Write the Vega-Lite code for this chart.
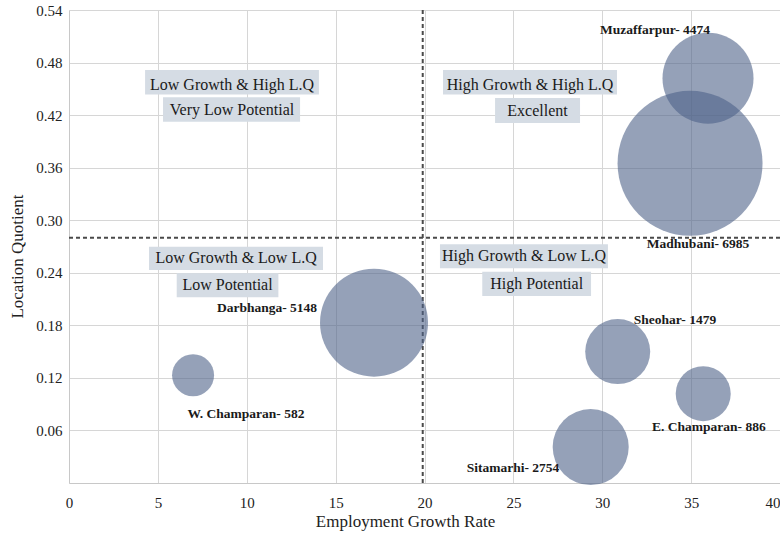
{
  "$schema": "https://vega.github.io/schema/vega-lite/v6.json",
  "width": 711,
  "height": 473,
  "autosize": {"type": "none"},
  "padding": {"left": 69, "top": 10, "right": 0, "bottom": 50},
  "background": "white",
  "config": {
    "font": "Liberation Serif",
    "view": {"stroke": null},
    "axis": {
      "labelFont": "Liberation Serif",
      "titleFont": "Liberation Serif",
      "labelFontSize": 15,
      "titleFontSize": 17,
      "titleFontWeight": "normal",
      "labelColor": "#222222",
      "titleColor": "#222222",
      "gridColor": "#d6d6d6",
      "domainColor": "#c8c8c8",
      "ticks": false
    }
  },
  "datasets": {
    "vline": [{"x": 19.9}],
    "hline": [{"y": 0.28}],
    "districts": [
      {"district": "Muzaffarpur", "label": "Muzaffarpur- 4474", "x": 35.95, "y": 0.462, "magnitude": 39.4, "lx": 32.97, "ly": 0.517},
      {"district": "Madhubani", "label": "Madhubani- 6985", "x": 34.94, "y": 0.365, "magnitude": 100, "lx": 35.39, "ly": 0.273},
      {"district": "Darbhanga", "label": "Darbhanga- 5148", "x": 17.16, "y": 0.183, "magnitude": 55.5, "lx": 11.14, "ly": 0.2},
      {"district": "W. Champaran", "label": "W. Champaran- 582", "x": 6.98, "y": 0.123, "magnitude": 8.4, "lx": 9.96, "ly": 0.079},
      {"district": "Sheohar", "label": "Sheohar- 1479", "x": 30.87, "y": 0.15, "magnitude": 20.1, "lx": 34.09, "ly": 0.186},
      {"district": "E. Champaran", "label": "E. Champaran- 886", "x": 35.68, "y": 0.102, "magnitude": 14.4, "lx": 36.0, "ly": 0.064},
      {"district": "Sitamarhi", "label": "Sitamarhi- 2754", "x": 29.35, "y": 0.041, "magnitude": 27.5, "lx": 24.98, "ly": 0.017}
    ],
    "quadrants": [
      {"text": "Low Growth & High L.Q", "x1": 4.28, "x2": 14.06, "y1": 0.4715, "y2": 0.4435, "x": 9.17, "y": 0.4549},
      {"text": "Very Low Potential", "x1": 5.29, "x2": 13.0, "y1": 0.4403, "y2": 0.4125, "x": 9.17, "y": 0.4264},
      {"text": "High Growth & High L.Q", "x1": 21.04, "x2": 30.83, "y1": 0.4715, "y2": 0.4435, "x": 25.94, "y": 0.4549},
      {"text": "Excellent", "x1": 23.97, "x2": 28.75, "y1": 0.4395, "y2": 0.411, "x": 26.36, "y": 0.4252},
      {"text": "Low Growth & Low L.Q", "x1": 4.5, "x2": 14.29, "y1": 0.2698, "y2": 0.2432, "x": 9.4, "y": 0.2565},
      {"text": "Low Potential", "x1": 6.06, "x2": 11.78, "y1": 0.2394, "y2": 0.212, "x": 8.92, "y": 0.2257},
      {"text": "High Growth & Low L.Q", "x1": 20.87, "x2": 30.32, "y1": 0.2725, "y2": 0.2451, "x": 25.6, "y": 0.2591},
      {"text": "High Potential", "x1": 23.25, "x2": 29.37, "y1": 0.2412, "y2": 0.2135, "x": 26.31, "y": 0.2274}
    ]
  },
  "layer": [
    {
      "data": {"name": "vline"},
      "mark": {"type": "rule", "strokeDash": [4, 3], "strokeWidth": 2, "color": "#4a4a4a"},
      "encoding": {
        "x": {
          "field": "x", "type": "quantitative",
          "scale": {"domain": [0, 40], "nice": false, "zero": false},
          "title": "Employment Growth Rate",
          "axis": {
            "values": [0, 5, 10, 15, 20, 25, 30, 35, 40],
            "grid": true,
            "labelPadding": 12,
            "titlePadding": 3,
            "titleX": 336,
            "labelFlush": false,
            "labelAlign": {"expr": "datum.value == 40 ? 'right' : 'center'"},
            "labelDx": {"expr": "datum.value == 0 ? -5 : (datum.value == 40 ? -1 : 0)"}
          }
        }
      }
    },
    {
      "data": {"name": "hline"},
      "mark": {"type": "rule", "strokeDash": [4, 3], "strokeWidth": 2, "color": "#4a4a4a"},
      "encoding": {
        "y": {
          "field": "y", "type": "quantitative",
          "scale": {"domain": [0, 0.54], "nice": false, "zero": false},
          "title": "Location Quotient",
          "axis": {"values": [0.06, 0.12, 0.18, 0.24, 0.3, 0.36, 0.42, 0.48, 0.54], "format": ".2f", "grid": true, "labelPadding": 7, "titlePadding": 9, "titleY": 246}
        }
      }
    },
    {
      "data": {"name": "districts"},
      "mark": {"type": "circle", "fill": "#4f6289", "opacity": 0.6, "stroke": null},
      "encoding": {
        "x": {"field": "x", "type": "quantitative", "scale": {"domain": [0, 40], "nice": false, "zero": false}, "title": "Employment Growth Rate"},
        "y": {"field": "y", "type": "quantitative", "scale": {"domain": [0, 0.54], "nice": false, "zero": false}, "title": "Location Quotient"},
        "size": {"field": "magnitude", "type": "quantitative", "scale": {"domain": [0, 100], "range": [0, 21025], "zero": true}, "legend": null}
      }
    },
    {
      "data": {"name": "districts"},
      "mark": {"type": "text", "font": "Liberation Serif", "fontSize": 13.5, "fontWeight": "bold", "color": "#1a1a1a", "align": "center", "baseline": "middle"},
      "encoding": {
        "x": {"field": "lx", "type": "quantitative", "scale": {"domain": [0, 40], "nice": false, "zero": false}, "title": "Employment Growth Rate"},
        "y": {"field": "ly", "type": "quantitative", "scale": {"domain": [0, 0.54], "nice": false, "zero": false}, "title": "Location Quotient"},
        "text": {"field": "label"}
      }
    },
    {
      "data": {"name": "quadrants"},
      "mark": {"type": "rect", "fill": "#d5dce4"},
      "encoding": {
        "x": {"field": "x1", "type": "quantitative", "scale": {"domain": [0, 40], "nice": false, "zero": false}, "title": "Employment Growth Rate"},
        "x2": {"field": "x2"},
        "y": {"field": "y1", "type": "quantitative", "scale": {"domain": [0, 0.54], "nice": false, "zero": false}, "title": "Location Quotient"},
        "y2": {"field": "y2"}
      }
    },
    {
      "data": {"name": "quadrants"},
      "mark": {"type": "text", "font": "Liberation Serif", "fontSize": 16, "color": "#1a1a1a", "align": "center", "baseline": "middle"},
      "encoding": {
        "x": {"field": "x", "type": "quantitative", "scale": {"domain": [0, 40], "nice": false, "zero": false}, "title": "Employment Growth Rate"},
        "y": {"field": "y", "type": "quantitative", "scale": {"domain": [0, 0.54], "nice": false, "zero": false}, "title": "Location Quotient"},
        "text": {"field": "text"}
      }
    }
  ]
}
